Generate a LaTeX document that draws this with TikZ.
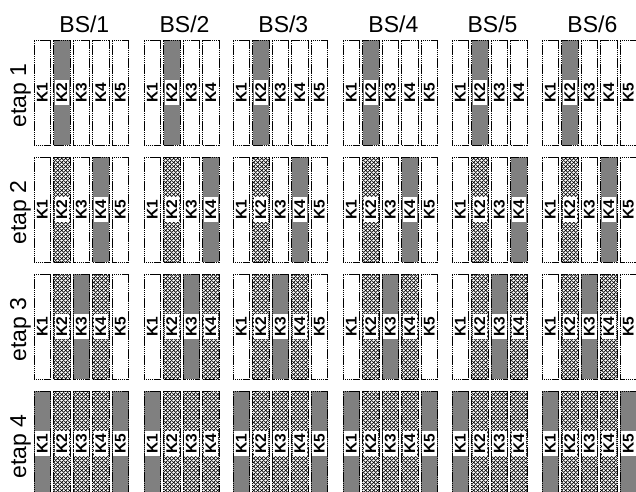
\documentclass[tikz,border=0pt]{standalone}
\usepackage{fontspec}
\setmainfont{Liberation Sans}
\usetikzlibrary{patterns}
\definecolor{kdark}{HTML}{808080}
\pgfdeclarepatternformonly{mesh}{\pgfpointorigin}{\pgfpoint{4pt}{4pt}}{\pgfpoint{4pt}{4pt}}{%
  \pgfsetlinewidth{0.8pt}%
  \pgfpathmoveto{\pgfpoint{-0.5pt}{-0.5pt}}\pgfpathlineto{\pgfpoint{4.5pt}{4.5pt}}%
  \pgfpathmoveto{\pgfpoint{-0.5pt}{4.5pt}}\pgfpathlineto{\pgfpoint{4.5pt}{-0.5pt}}%
  \pgfusepath{stroke}}

\begin{document}
\begin{tikzpicture}[x=1pt, y=-1pt,
  bar/.style={draw, line width=0.8pt, dash pattern=on 1.4pt off 0.5pt, minimum width=16.5pt, minimum height=105pt, inner sep=0pt},
  kw/.style={fill=white},
  kd/.style={fill=kdark},
  km/.style={pattern=mesh},
  klabel/.style={rotate=90, fill=white, inner xsep=2.5pt, inner ysep=0pt, minimum height=14.5pt, font=\bfseries\fontsize{15.5}{15.5}\selectfont},
  title/.style={anchor=base, font=\fontsize{23}{23}\selectfont},
  stage/.style={rotate=90, anchor=base, font=\fontsize{23}{23}\selectfont}
]
  \path[use as bounding box] (0,0) rectangle (636,491);
  \clip (0,0) rectangle (636,491);

  % stages
  \foreach \ry [count=\r] in {40,157,274,391}
    \node[stage] (e\r) at (26, \ry+55.5) {etap \r};

  % groups BS/1 .. BS/6
  \foreach \gx/\gn/\g in {34/5/1, 144/4/2, 233/5/3, 343/5/4, 452/4/5, 542/5/6} {
    \node[title] (t\g) at ({\gx+((\gn-1)*19.55+16.5)/2+3}, 32) {BS/\g};
    \foreach \ry/\a/\b/\c/\d/\e [count=\r] in {40/kw/kd/kw/kw/kw, 157/kw/km/kw/kd/kw, 274/kw/km/kd/km/kw, 391/kd/km/km/km/kd} {
      \foreach \s [count=\k] in {\a,\b,\c,\d,\e} {
        \ifnum\k>\gn\relax\else
          \node[bar, \s] (b\g\r\k) at ({\gx+(\k-1)*19.55+8.25}, \ry+52.5) {};
          \node[klabel] (l\g\r\k) at (b\g\r\k) {K\k};
        \fi
      }
    }
  }
\end{tikzpicture}
\end{document}
